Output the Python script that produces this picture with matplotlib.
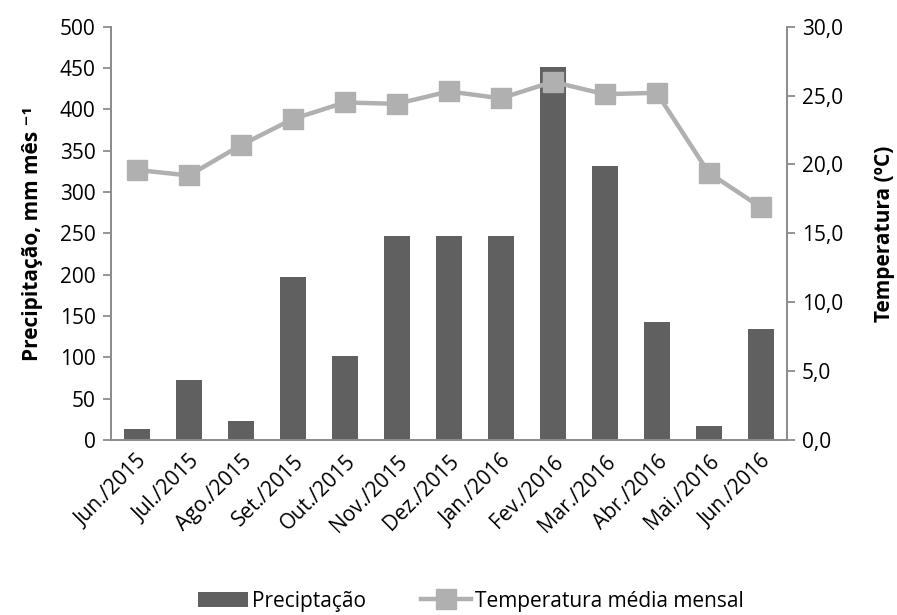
import numpy as np
import matplotlib
matplotlib.use("Agg")
import matplotlib.pyplot as plt

plt.rcParams['font.family'] = ['Open Sans', 'DejaVu Sans']

# Data
months = ["Jun./2015", "Jul./2015", "Ago./2015", "Set./2015", "Out./2015",
          "Nov./2015", "Dez./2015", "Jan./2016", "Fev./2016", "Mar./2016",
          "Abr./2016", "Mai./2016", "Jun./2016"]
precip = [13, 73, 23, 197, 101, 247, 247, 247, 451, 331, 143, 17, 134]
temp = [19.6, 19.2, 21.4, 23.3, 24.5, 24.4, 25.3, 24.8, 26.0, 25.1, 25.2, 19.4, 16.9]

bar_color = "#606060"
line_color = "#B0B0B0"
spine_color = "#8C8C8C"
fs = 15

fig = plt.figure(figsize=(8.97, 6.15), dpi=100)
ax = fig.add_axes([0.1237, 0.2846, 0.7533, 0.672])
ax2 = ax.twinx()

x = np.arange(len(months))
b = ax.bar(x, precip, width=0.5, color=bar_color, label="Preciptação", zorder=2)
ln, = ax2.plot(x, temp, color=line_color, lw=3.2, marker="s", markersize=14,
               label="Temperatura média mensal", zorder=3)
ax.set_zorder(1)
ax2.set_zorder(2)
ax.patch.set_visible(False)

ax.set_xlim(-0.5, len(months) - 0.5)
ax.set_ylim(0, 500)
ax.set_yticks(np.arange(0, 501, 50))
ax2.set_ylim(0, 30)
ax2.set_yticks(np.arange(0, 31, 5))
ax2.set_yticklabels([f"{v:.1f}".replace(".", ",") for v in np.arange(0, 31, 5)])

ax.set_xticks(x)
ax.set_xticklabels(months, rotation=45, ha="right", rotation_mode="anchor")

for a in (ax, ax2):
    a.spines["top"].set_visible(False)
    for s in ("left", "right", "bottom"):
        a.spines[s].set_color(spine_color)
        a.spines[s].set_linewidth(1.3)
    a.tick_params(axis="y", colors=spine_color, labelcolor="black",
                  labelsize=fs, length=6, width=1.3, pad=5)
ax.tick_params(axis="x", length=0, labelsize=fs, pad=8)

ax.set_ylabel("Precipitação, mm mês ⁻¹", fontsize=fs, fontweight="bold", labelpad=12)
ax2.set_ylabel("Temperatura (ºC)", fontsize=fs, fontweight="bold", labelpad=22)

fig.legend([b, ln], ["Preciptação", "Temperatura média mensal"],
           loc="lower center", bbox_to_anchor=(0.525, -0.025), ncol=2, frameon=False,
           fontsize=fs, handlelength=2.4, columnspacing=2.6, handletextpad=0.2)

fig.savefig("out.png", dpi=100)
